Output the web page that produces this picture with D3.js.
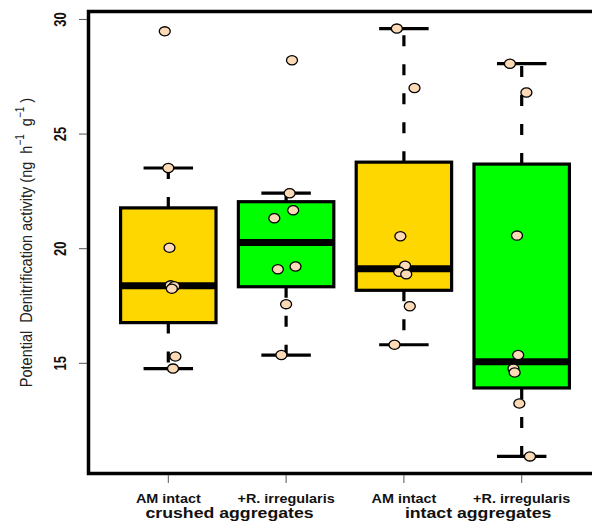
<!DOCTYPE html>
<html>
<head>
<meta charset="utf-8">
<script src="https://cdn.jsdelivr.net/npm/d3@7/dist/d3.min.js"></script>
<style>
  html, body { margin: 0; padding: 0; background: #fff; }
  svg { display: block; font-family: "Liberation Sans", Arial, sans-serif; }
</style>
</head>
<body>
<svg id="chart" width="592" height="522"></svg>
<script>
// Potential denitrification activity per treatment (ng h^-1 g^-1), 8 replicates each
const categories = ["AM intact", "+R. irregularis", "AM intact", "+R. irregularis"];
const groupLabels = ["crushed aggregates", "intact aggregates"];
const groupLabelPos = [1.52, 3.63];
const boxColors = ["#FFD700", "#00FF00", "#FFD700", "#00FF00"];

const crushedAM   = [29.48, 23.52, 20.04, 18.40, 18.36, 18.25, 15.30, 14.77];
const crushedRirr = [28.22, 22.42, 21.68, 21.33, 19.22, 19.10, 17.58, 15.36];
const intactAM    = [29.60, 27.01, 20.54, 19.26, 18.99, 18.88, 17.49, 15.81];
const intactRirr  = [28.07, 26.81, 20.57, 15.36, 14.77, 14.60, 13.25, 10.94];

// horizontal jitter of each replicate, in category units
const jitterCrushedAM   = [-0.03, 0.00, 0.01, 0.02, 0.05, 0.03, 0.06, 0.04];
const jitterCrushedRirr = [0.05, 0.03, 0.06, -0.10, 0.08, -0.07, 0.00, -0.04];
const jitterIntactAM    = [-0.06, 0.09, -0.03, 0.01, -0.04, 0.02, 0.05, -0.08];
const jitterIntactRirr  = [-0.10, 0.04, -0.04, -0.03, -0.07, -0.06, -0.02, 0.07];

const yTicks = [15, 20, 25, 30];

const series = [crushedAM, crushedRirr, intactAM, intactRirr];
const jitters = [jitterCrushedAM, jitterCrushedRirr, jitterIntactAM, jitterIntactRirr];

const svg = d3.select("#chart");
const SX = 1.2; // horizontal glyph stretch

const plot = { left: 88.5, right: 640, top: 11.5, bottom: 473.5 };

const x = d3.scaleLinear().domain([1, 4]).range([168.3, 521.7]);
const all = series.flat();
const [lo, hi] = d3.extent(all);
const pad = (hi - lo) * 0.04;
const y = d3.scaleLinear().domain([lo - pad, hi + pad]).range([plot.bottom, plot.top]);

// R-style five-number summary
function fivenum(arr) {
  const s = arr.slice().sort((a, b) => a - b);
  const n = s.length;
  const n4 = Math.floor((n + 3) / 2) / 2;
  const d = [1, n4, (n + 1) / 2, n + 1 - n4, n];
  return d.map(k => 0.5 * (s[Math.floor(k) - 1] + s[Math.ceil(k) - 1]));
}
function boxStats(arr) {
  const f = fivenum(arr);
  const iqr = f[3] - f[1];
  const upLim = f[3] + 1.5 * iqr, loLim = f[1] - 1.5 * iqr;
  const inside = arr.filter(v => v >= loLim && v <= upLim);
  return { q1: f[1], med: f[2], q3: f[3], wlo: d3.min(inside), whi: d3.max(inside) };
}

const halfBox = 0.405, halfStaple = 0.21;

const boxes = svg.append("g");
series.forEach((vals, i) => {
  const st = boxStats(vals);
  const cx = x(i + 1);
  const g = boxes.append("g");
  const dash = "11,18";
  g.append("line").attr("x1", cx).attr("x2", cx).attr("y1", y(st.q3)).attr("y2", y(st.whi))
    .attr("stroke", "#000").attr("stroke-width", 3.2).attr("stroke-dasharray", dash);
  g.append("line").attr("x1", cx).attr("x2", cx).attr("y1", y(st.q1)).attr("y2", y(st.wlo))
    .attr("stroke", "#000").attr("stroke-width", 3.2).attr("stroke-dasharray", dash);
  [st.whi, st.wlo].forEach(v => {
    g.append("line").attr("x1", x(i + 1 - halfStaple)).attr("x2", x(i + 1 + halfStaple))
      .attr("y1", y(v)).attr("y2", y(v)).attr("stroke", "#000").attr("stroke-width", 3.2);
  });
  g.append("rect")
    .attr("x", x(i + 1 - halfBox)).attr("width", x(i + 1 + halfBox) - x(i + 1 - halfBox))
    .attr("y", y(st.q3)).attr("height", y(st.q1) - y(st.q3))
    .attr("fill", boxColors[i]).attr("stroke", "#000").attr("stroke-width", 3.2);
  g.append("line").attr("x1", x(i + 1 - halfBox)).attr("x2", x(i + 1 + halfBox))
    .attr("y1", y(st.med)).attr("y2", y(st.med)).attr("stroke", "#000").attr("stroke-width", 7);
});

// replicate points
const pts = svg.append("g");
series.forEach((vals, i) => {
  vals.forEach((v, j) => {
    pts.append("ellipse")
      .attr("cx", x(i + 1 + jitters[i][j])).attr("cy", y(v))
      .attr("rx", 5.5).attr("ry", 4.6)
      .attr("fill", "#FCDAB6").attr("stroke", "#000").attr("stroke-width", 1.3);
  });
});

// frame (right side runs off the canvas)
svg.append("rect").attr("x", plot.left).attr("y", plot.top)
  .attr("width", plot.right - plot.left).attr("height", plot.bottom - plot.top)
  .attr("fill", "none").attr("stroke", "#000").attr("stroke-width", 3.5);

// y axis ticks and labels
yTicks.forEach(t => {
  svg.append("line").attr("x1", 79).attr("x2", plot.left - 1.5)
    .attr("y1", y(t)).attr("y2", y(t)).attr("stroke", "#555").attr("stroke-width", 1);
  svg.append("text")
    .attr("transform", `translate(65.5,${y(t)}) scale(${SX},1) rotate(-90)`)
    .attr("text-anchor", "middle").attr("font-size", 13).attr("font-weight", "bold")
    .attr("fill", "#111").text(t);
});

// x axis ticks and labels
categories.forEach((c, i) => {
  svg.append("line").attr("x1", x(i + 1)).attr("x2", x(i + 1))
    .attr("y1", plot.bottom + 1.5).attr("y2", 483).attr("stroke", "#555").attr("stroke-width", 1);
  svg.append("text")
    .attr("transform", `translate(${x(i + 1)},503) scale(${SX},1)`)
    .attr("text-anchor", "middle").attr("font-size", 12).attr("font-weight", "bold")
    .attr("fill", "#111").text(c);
});
groupLabels.forEach((g, i) => {
  svg.append("text")
    .attr("transform", `translate(${x(groupLabelPos[i])},518) scale(1.18,1)`)
    .attr("text-anchor", "middle").attr("font-size", 15).attr("font-weight", "bold")
    .attr("fill", "#111").text(g);
});

// y axis title with superscript units
const yt = svg.append("text")
  .attr("transform", `translate(31.5,${(plot.top + plot.bottom) / 2}) scale(${SX},1) rotate(-90)`)
  .attr("text-anchor", "middle").attr("font-size", 14.5).attr("fill", "#222");
yt.append("tspan").text("Potential\u00A0 Denitrification activity (ng\u00A0 h");
yt.append("tspan").attr("dy", -6).attr("font-size", 10).text("\u22121");
yt.append("tspan").attr("dy", 6).text("\u00A0 g");
yt.append("tspan").attr("dy", -6).attr("font-size", 10).text("\u22121");
yt.append("tspan").attr("dy", 6).text("\u00A0)");
</script>
</body>
</html>
